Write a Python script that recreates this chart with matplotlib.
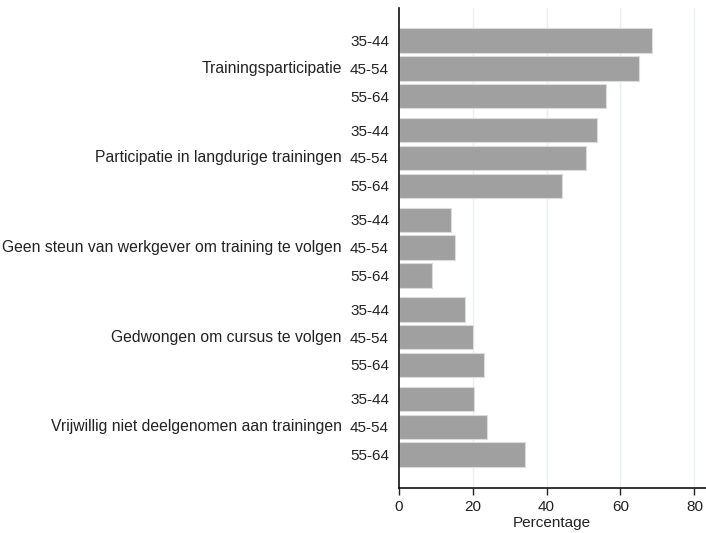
import matplotlib
matplotlib.use("Agg")
import matplotlib.pyplot as plt
import numpy as np

groups = ["Trainingsparticipatie",
          "Participatie in langdurige trainingen",
          "Geen steun van werkgever om training te volgen",
          "Gedwongen om cursus te volgen",
          "Vrijwillig niet deelgenomen aan trainingen"]
ages = ["35-44", "45-54", "55-64"]
values = [
    [68.5, 65.1, 56.1],
    [53.6, 50.7, 44.1],
    [14.2, 15.3, 9.1],
    [17.9, 20.0, 23.0],
    [20.3, 24.0, 34.1],
]
xticks = [0, 20, 40, 60, 80]

plt.rcParams['font.family'] = ['Liberation Sans', 'DejaVu Sans']

W, H = 706, 533
fig = plt.figure(figsize=(W/100, H/100), dpi=100)
ax = fig.add_axes([398.7/W, 1-487.7/H, (705.5-398.7)/W, (487.7-8)/H])

gstep = 3.22
pos, vals, labs = [], [], []
for i, g in enumerate(groups):
    for j, a in enumerate(ages):
        pos.append(i*gstep + j)
        vals.append(values[i][j])
        labs.append(a)

ax.barh(pos, vals, height=0.875, color='#a0a0a0', edgecolor='#dcdcdc', linewidth=0.8, zorder=2)
ax.set_ylim(4*gstep + 2 + 1.19, -1.17)
ax.set_xlim(0, 83.0)

ax.set_yticks(pos)
ax.set_yticklabels(labs, fontsize=11, color='#222222')
ax.tick_params(axis='y', length=0, pad=7)

ax.set_xticks(xticks)
ax.set_xticklabels([str(t) for t in xticks], fontsize=11, color='#222222')
ax.tick_params(axis='x', length=5, width=1, color='#222222', pad=4)
ax.set_xlabel("Percentage", fontsize=11, color='#222222', labelpad=1)

for t in xticks[1:]:
    ax.axvline(t, color='#e8f0f2', lw=1, zorder=1)

for s in ['top', 'right']:
    ax.spines[s].set_visible(False)
for s in ['left', 'bottom']:
    ax.spines[s].set_color('#111111')
    ax.spines[s].set_linewidth(1.2)

for i, g in enumerate(groups):
    y = i*gstep + 1
    ax.annotate(g, xy=(0, y), xycoords=('axes fraction', 'data'),
                xytext=(-57, 0), textcoords='offset pixels',
                ha='right', va='center', fontsize=11.35, color='#222222')

fig.savefig("out.png", dpi=100)
